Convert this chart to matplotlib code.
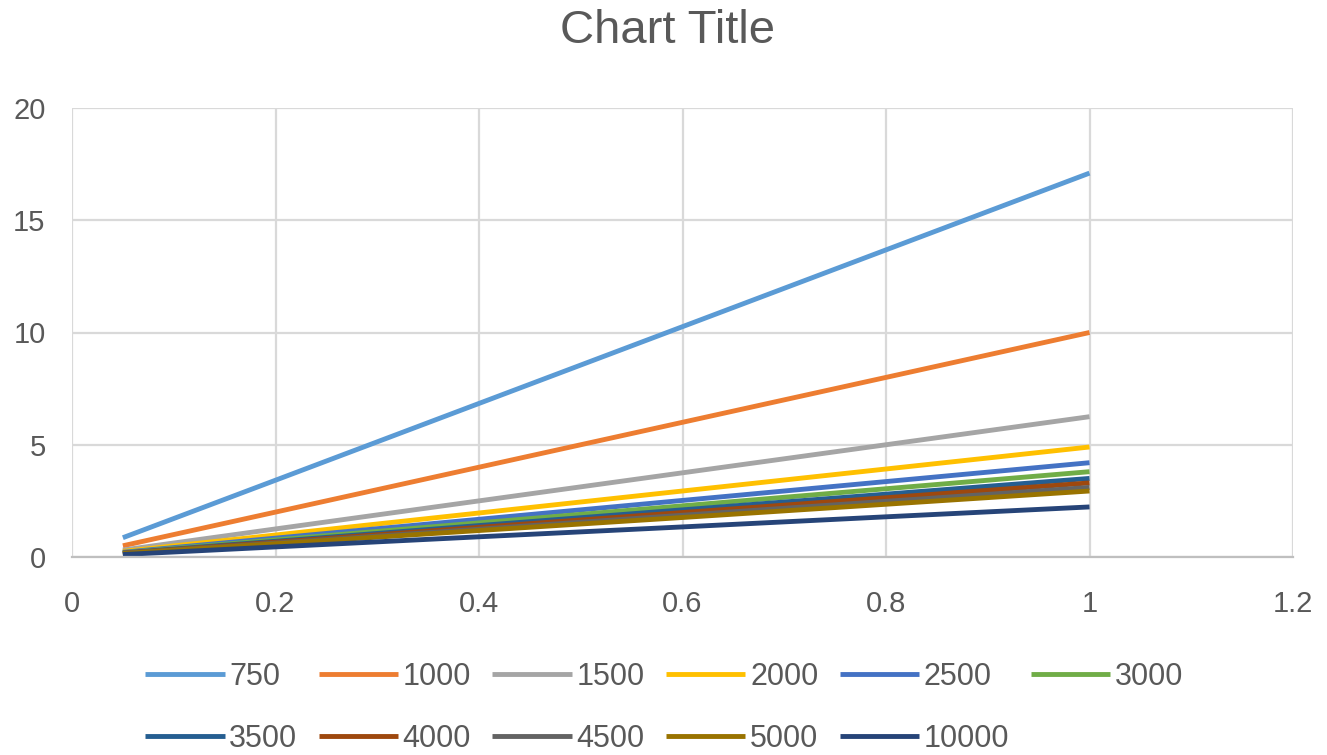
import matplotlib
matplotlib.use('Agg')
import matplotlib.pyplot as plt

# x positions of the points (fraction)
x_vals = [0.05, 0.2, 0.4, 0.6, 0.8, 1.0]

series_names = ['750', '1000', '1500', '2000', '2500', '3000',
                '3500', '4000', '4500', '5000', '10000']

s750 = [0.86, 3.42, 6.84, 10.26, 13.68, 17.1]
s1000 = [0.5, 2.0, 4.0, 6.0, 8.0, 10.0]
s1500 = [0.31, 1.25, 2.5, 3.75, 5.0, 6.25]
s2000 = [0.25, 0.98, 1.96, 2.94, 3.92, 4.9]
s2500 = [0.21, 0.84, 1.68, 2.52, 3.36, 4.2]
s3000 = [0.19, 0.76, 1.52, 2.28, 3.04, 3.8]
s3500 = [0.18, 0.7, 1.4, 2.1, 2.8, 3.5]
s4000 = [0.17, 0.66, 1.32, 1.98, 2.64, 3.3]
s4500 = [0.16, 0.62, 1.24, 1.86, 2.48, 3.1]
s5000 = [0.15, 0.59, 1.18, 1.76, 2.35, 2.94]
s10000 = [0.11, 0.45, 0.9, 1.34, 1.79, 2.23]

all_series = [s750, s1000, s1500, s2000, s2500, s3000,
              s3500, s4000, s4500, s5000, s10000]

# excel office palette
colors = ['#5B9BD5', '#ED7D31', '#A5A5A5', '#FFC000', '#4472C4', '#70AD47',
          '#255E91', '#9E480E', '#636363', '#997300', '#264478']

plt.rcParams['font.family'] = ['Liberation Sans', 'DejaVu Sans']
txt_color = '#595959'

fig = plt.figure(figsize=(13.27, 7.55), dpi=100)
ax = fig.add_axes([72 / 1327, 1 - 557 / 755, (1293 - 72) / 1327, (557 - 108) / 755])

lines = []
for name, vals, c in zip(series_names, all_series, colors):
    ln, = ax.plot(x_vals, vals, color=c, linewidth=3.5, label=name, solid_capstyle='butt')
    lines.append(ln)

ax.set_xlim(0, 1.2)
ax.set_ylim(0, 20)
ax.set_xticks([0, 0.2, 0.4, 0.6, 0.8, 1.0, 1.2])
ax.set_xticklabels(['0', '0.2', '0.4', '0.6', '0.8', '1', '1.2'])
ax.set_yticks([0, 5, 10, 15, 20])
ax.tick_params(length=0, labelsize=21, colors=txt_color)
ax.tick_params(axis='x', pad=24)
ax.tick_params(axis='y', pad=19)

ax.grid(True, color='#D9D9D9', linewidth=1.6)
ax.set_axisbelow(True)
for side in ['top', 'right', 'left']:
    ax.spines[side].set_visible(False)
ax.spines['bottom'].set_color('#BFBFBF')
ax.spines['bottom'].set_linewidth(1.6)

fig.text(0.503, 1 - 31 / 755, 'Chart Title', ha='center', va='center',
         fontsize=34, color=txt_color)

# legend fills columns first, so reorder to get excel's row-wise layout
order = [0, 6, 1, 7, 2, 8, 3, 9, 4, 10, 5]
leg = fig.legend([lines[i] for i in order], [series_names[i] for i in order],
                 loc='center', bbox_to_anchor=(0.5004, 1 - 708 / 755), ncol=6,
                 frameon=False, fontsize=22, handlelength=2.6,
                 handletextpad=0.15, columnspacing=0.7, labelspacing=1.05)
for t in leg.get_texts():
    t.set_color(txt_color)

fig.savefig('out.png', dpi=100)
